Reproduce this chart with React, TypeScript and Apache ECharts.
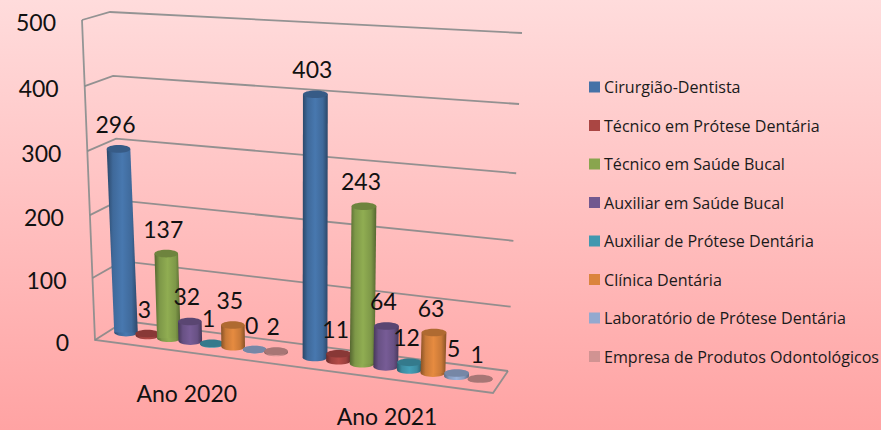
import React, { useEffect, useRef } from "react";
import * as echarts from "echarts";

const categories = ["Ano 2020", "Ano 2021"];
const seriesNames = [
  "Cirurgião-Dentista",
  "Técnico em Prótese Dentária",
  "Técnico em Saúde Bucal",
  "Auxiliar em Saúde Bucal",
  "Auxiliar de Prótese Dentária",
  "Clínica Dentária",
  "Laboratório de Prótese Dentária",
  "Empresa de Produtos Odontológicos",
];
const values2020 = [296, 3, 137, 32, 1, 35, 0, 2];
const values2021 = [403, 11, 243, 64, 12, 63, 5, 1];
const colors = ["#4572A7", "#AA4643", "#89A54E", "#71588F", "#4198AF", "#DB843D", "#93A9CF", "#D19392"];
const yTicks = [0, 100, 200, 300, 400, 500];

type P = [number, number];
const lerp = (a: P, b: P, k: number): P => [a[0] + (b[0] - a[0]) * k, a[1] + (b[1] - a[1]) * k];

// corners of the drawn box: bottom and top, front/back, left/right
const FL0: P = [95, 340], BL0: P = [125, 321], BR0: P = [508, 371], FR0: P = [493, 393];
const FL1: P = [82, 20], BL1: P = [110, 12], BR1: P = [522, 33], FR1: P = [506, 43];

function project(u: number, d: number, t: number): P {
  const bottom = lerp(lerp(FL0, FR0, u), lerp(BL0, BR0, u), d);
  const top = lerp(lerp(FL1, FR1, u), lerp(BL1, BR1, u), d);
  const s = 0.96 - 0.02 * u;
  const w = (t * s) / (1 - t + t * s);
  return lerp(bottom, top, w);
}

const GROUP_START = [0.041, 0.525];
const GROUP_STEP = [0.0549, 0.0604];
const RADIUS = [11.8, 12.4];
const RY = 3.8;
const BAR_DEPTH = 0.5;

function shade(hex: string, k: number) {
  const n = parseInt(hex.slice(1), 16);
  const f = (v: number) => Math.round(Math.min(255, v * k));
  return `rgb(${f((n >> 16) & 255)},${f((n >> 8) & 255)},${f(n & 255)})`;
}

const FONT = '23px Lato, "Open Sans", sans-serif';

// fraction of the value axis, read through the library's own scale
function frac(api: any, v: number) {
  const y0 = api.coord([0, 0])[1];
  const y1 = api.coord([0, 500])[1];
  return (y0 - api.coord([0, v])[1]) / (y0 - y1);
}

function gridItem(_: any, api: any) {
  const t = frac(api, api.value(1));
  const line = (pts: P[]) => ({
    type: "polyline",
    shape: { points: pts },
    style: { stroke: "rgba(128,134,134,0.85)", lineWidth: 1.8, fill: "none" },
  });
  const a = project(0, 0, t), b = project(0, 1, t), c = project(1, 1, t);
  const children: any[] = [
    line([a, b, c]),
    {
      type: "text",
      x: a[0] - 26,
      y: a[1] + 2,
      style: { text: String(api.value(1)), font: FONT, fill: "#111", align: "right", verticalAlign: "middle" },
    },
  ];
  return { type: "group", children };
}

function frameItem() {
  const line = (pts: P[]) => ({
    type: "polyline",
    shape: { points: pts },
    style: { stroke: "rgba(128,138,138,0.85)", lineWidth: 1.8, fill: "none" },
  });
  return {
    type: "group",
    children: [line([project(0, 0, 1), project(0, 0, 0), project(1, 0, 0), project(1, 1, 0)])],
  };
}

function catItem(params: any, api: any) {
  const g = params.dataIndex;
  const u = GROUP_START[g] + GROUP_STEP[g] * 3.5;
  const p = project(u, 0, 0);
  return {
    type: "text",
    x: p[0] - 1,
    y: Math.min(p[1] + 41, 415.5),
    style: { text: categories[g], font: FONT, lineHeight: 18, fill: "#111", align: "center", verticalAlign: "middle" },
  };
}

const barItem = (i: number) => (params: any, api: any) => {
  const g = params.dataIndex;
  const v = api.value(1);
  const u = GROUP_START[g] + GROUP_STEP[g] * i;
  const b = project(u, BAR_DEPTH, 0);
  const t = project(u, BAR_DEPTH, frac(api, v));
  const rx = RADIUS[g];
  const c = colors[i];
  const fill = {
    type: "linear",
    x: 0,
    y: 0,
    x2: 1,
    y2: 0,
    colorStops: [
      { offset: 0, color: shade(c, 0.62) },
      { offset: 0.2, color: shade(c, 0.92) },
      { offset: 0.5, color: shade(c, 1.05) },
      { offset: 0.8, color: shade(c, 0.92) },
      { offset: 1, color: shade(c, 0.62) },
    ],
  };
  return {
    type: "group",
    children: [
      { type: "ellipse", shape: { cx: b[0], cy: b[1], rx, ry: RY }, style: { fill } },
      {
        type: "polygon",
        shape: { points: [[t[0] - rx, t[1]], [t[0] + rx, t[1]], [b[0] + rx, b[1]], [b[0] - rx, b[1]]] },
        style: { fill },
      },
      { type: "ellipse", shape: { cx: t[0], cy: t[1], rx, ry: RY }, style: { fill: shade(c, 0.8) } },
      {
        type: "text",
        x: t[0] - 3,
        y: t[1] - 25,
        style: { text: String(v), font: FONT, fill: "#111", align: "center", verticalAlign: "middle" },
      },
    ],
  };
};

export default function App() {
  const ref = useRef<HTMLDivElement>(null);
  useEffect(() => {
    const chart = echarts.init(ref.current!, undefined, { renderer: "svg" });
    chart.setOption({
      animation: false,
      backgroundColor: {
        type: "linear",
        x: 0,
        y: 0,
        x2: 0,
        y2: 1,
        colorStops: [
          { offset: 0, color: "#FFDCDC" },
          { offset: 1, color: "#FFA3A3" },
        ],
      },
      grid: { left: 0, right: 0, top: 0, bottom: 0 },
      xAxis: { type: "category", data: categories, show: false },
      yAxis: { type: "value", min: 0, max: 500, interval: 100, show: false },
      legend: {
        orient: "vertical",
        left: 589,
        top: 79,
        padding: 0,
        data: seriesNames,
        icon: "rect",
        itemWidth: 11,
        itemHeight: 11,
        itemGap: 22.5,
        selectedMode: false,
        textStyle: {
          fontFamily: '"Open Sans", sans-serif',
          fontSize: 16.1,
          lineHeight: 11,
          color: "#1a1a1a",
          padding: [0, 0, 0, -1],
        },
      },
      series: [
        {
          type: "custom",
          name: "grid",
          silent: true,
          renderItem: gridItem,
          data: yTicks.map((v) => [0, v]),
        },
        { type: "custom", name: "frame", silent: true, renderItem: frameItem, data: [[0, 0]] },
        ...seriesNames.map((name, i) => ({
          type: "custom",
          name,
          renderItem: barItem(i),
          itemStyle: { color: colors[i] },
          data: [
            [0, values2020[i]],
            [1, values2021[i]],
          ],
        })),
        {
          type: "custom",
          name: "categories",
          silent: true,
          renderItem: catItem,
          data: categories.map((_, i) => [i, 0]),
        },
      ],
    });
    return () => chart.dispose();
  }, []);
  return <div ref={ref} style={{ position: "fixed", left: 0, top: 0, width: 881, height: 430 }} />;
}
